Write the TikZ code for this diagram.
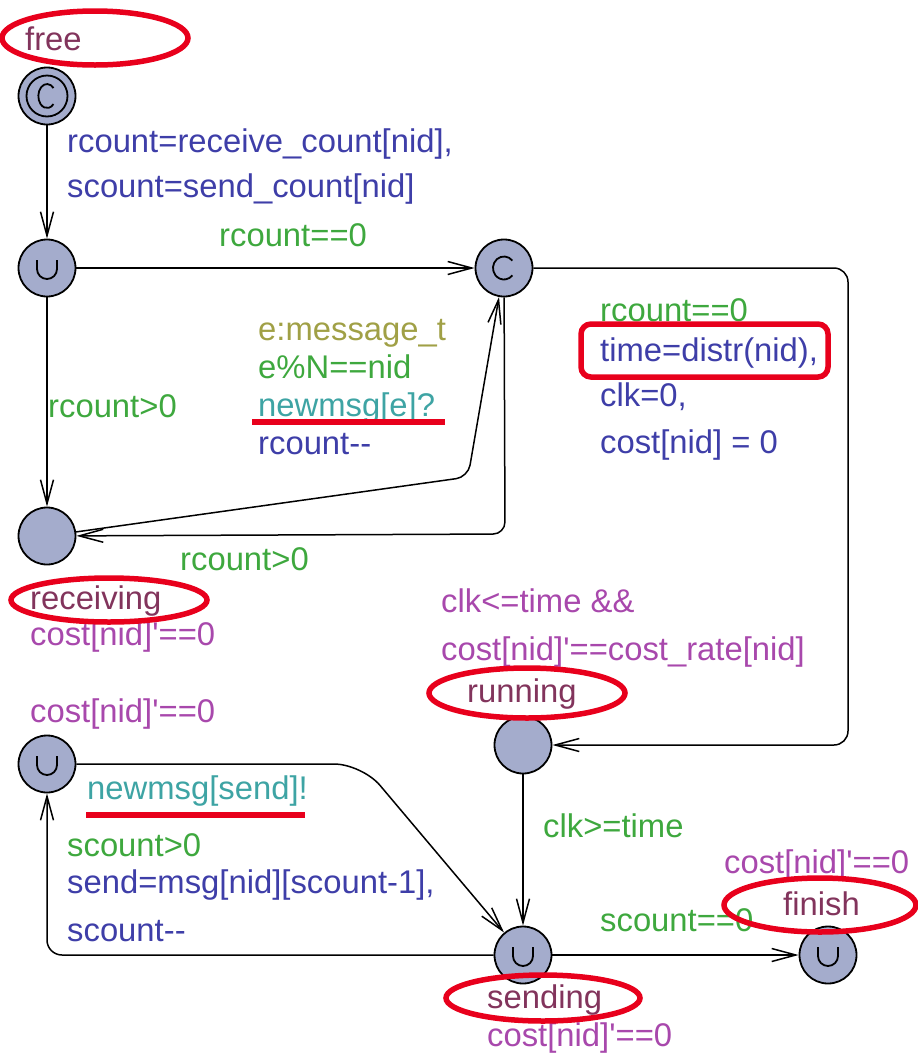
\documentclass[tikz,border=0pt]{standalone}
\usepackage{fontspec}
\setmainfont{Liberation Sans}[Ligatures=TeXOff]
\usetikzlibrary{arrows.meta}

\definecolor{statefill}{RGB}{164,172,204}
\definecolor{namecol}{RGB}{130,52,92}
\definecolor{invcol}{RGB}{168,72,172}
\definecolor{guardcol}{RGB}{62,168,62}
\definecolor{updcol}{RGB}{62,62,168}
\definecolor{synccol}{RGB}{62,164,164}
\definecolor{selcol}{RGB}{160,160,70}
\definecolor{markred}{RGB}{232,0,28}

\begin{document}
\begin{tikzpicture}[x=1pt,y=-1pt,
  every node/.style={font=\fontsize{32.8pt}{39pt}\selectfont},
  loc/.style={circle, draw=black, line width=1.8pt, fill=statefill, minimum size=57pt, inner sep=0pt},
  lbl/.style={anchor=base west, inner sep=0pt},
  nm/.style={lbl, text=namecol},
  inv/.style={lbl, text=invcol},
  grd/.style={lbl, text=guardcol},
  upd/.style={lbl, text=updcol},
  syn/.style={lbl, text=synccol},
  sel/.style={lbl, text=selcol},
  trans/.style={draw=black, line width=1.5pt, line join=round,
    -{Straight Barb[length=24pt,width=13pt,line width=1.5pt]}},
  glyph/.style={draw=black, line width=1.8pt},
  hl/.style={draw=markred, line width=5.5pt},
]
\useasboundingbox (0,0) rectangle (918,1053);

% ---------------- locations ----------------
\node[loc] (free) at (47,96) {};
\node[loc] (s1)   at (47,268) {};
\node[loc] (cst)  at (504,268) {};
\node[loc] (recv) at (47,536) {};
\node[loc] (ul)   at (47,764) {};
\node[loc] (run)  at (523,745) {};
\node[loc] (send) at (523,955) {};
\node[loc] (fin)  at (828,955) {};

% committed marks: ring plus C for the initial one, C alone for the other
\draw[glyph] (free.center) circle[radius=20.5pt];
\draw[glyph] ([shift={(6.5pt,8pt)}]free.center)
   arc[start angle=42, end angle=318, x radius=8.7pt, y radius=12pt];
\draw[glyph] ([shift={(8.4pt,7.4pt)}]cst.center)
   arc[start angle=40, end angle=320, x radius=11pt, y radius=11.5pt];

% urgent marks
\foreach \u in {s1,ul,send,fin}{
  \draw[glyph] ([shift={(-10pt,8pt)}]\u.center) -- ++(0pt,-9pt)
     arc[start angle=180,end angle=360,radius=10pt] -- ++(0pt,9pt);
}

% ---------------- transitions ----------------
\coordinate (k1) at (468,477);
\coordinate (k2) at (505,534);
\coordinate (k3) at (848,268);
\coordinate (k4) at (848,745);
\coordinate (k5) at (47,955);
\coordinate (k6) at (362,764);

\draw[trans] (free) -- (s1);
\draw[trans] (s1) -- (cst);
\draw[trans] (s1) -- (recv);
\draw[trans, rounded corners=12pt] (recv) -- (k1) -- (cst);
\draw[trans, rounded corners=12pt] (cst) -- (k2) -- (recv);
\draw[trans, rounded corners=14pt] (cst) -- (k3) -- (k4) -- (run);
\draw[trans] (run) -- (send);
\draw[trans, rounded corners=15pt] (send) -- (k5) -- (ul);
\draw[trans, rounded corners=28pt] (ul) -- (k6) -- (send);
\draw[trans] (send) -- (fin);

% ---------------- location names and invariants ----------------
\node[nm]  (tfree) at (25,50) {free};
\node[nm]  (trecv) at (30,609) {receiving};
\node[inv] (irecv) at (30,645) {cost[nid]'==0};
\node[inv] (iul)   at (30,722) {cost[nid]'==0};
\node[inv] (irun1) at (441,612) {clk<=time \&\&};
\node[inv] (irun2) at (441,660) {cost[nid]'==cost\_rate[nid]};
\node[nm]  (trun)  at (467,702) {running};
\node[inv] (ifin)  at (724,873) {cost[nid]'==0};
\node[nm]  (tfin)  at (783,915) {finish};
\node[nm]  (tsend) at (487,1008) {sending};
\node[inv] (isend) at (487,1046) {cost[nid]'==0};

% ---------------- transition labels ----------------
\node[upd] (u1a) at (67,152) {rcount=receive\_count[nid],};
\node[upd] (u1b) at (67,197) {scount=send\_count[nid]};
\node[grd] (g2)  at (219,246) {rcount==0};
\node[grd] (g3)  at (48,417) {rcount>0};
\node[sel] (s4)  at (258,340) {e:message\_t};
\node[grd] (g4)  at (258,378) {e\%N==nid};
\node[syn] (y4)  at (258,416) {newmsg[e]?};
\node[upd] (u4)  at (258,454) {rcount--};
\node[grd] (g5)  at (180,570) {rcount>0};
\node[grd] (g6)  at (600,321) {rcount==0};
\node[upd] (u6a) at (600,361) {time=distr(nid),};
\node[upd] (u6b) at (600,406) {clk=0,};
\node[upd] (u6c) at (600,453) {cost[nid] = 0};
\node[grd] (g7)  at (543,837) {clk>=time};
\node[syn] (y9)  at (87,799) {newmsg[send]!};
\node[grd] (g8)  at (67,856) {scount>0};
\node[upd] (u8a) at (67,893) {send=msg[nid][scount-1],};
\node[upd] (u8b) at (67,941) {scount--};
\node[grd] (g10) at (600,931) {scount==0};

% ---------------- highlights ----------------
\draw[hl] (95,38) ellipse[x radius=93pt, y radius=27pt];
\draw[hl] (109,600) ellipse[x radius=98pt, y radius=22pt];
\draw[hl] (527,693) ellipse[x radius=98pt, y radius=25pt];
\draw[hl] (543,998) ellipse[x radius=97pt, y radius=23pt];
\draw[hl] (820,905) ellipse[x radius=96pt, y radius=27pt];
\draw[hl, rounded corners=10pt] (581,324) rectangle (828,377);
\draw[hl] (252,422) -- (445,422);
\draw[hl] (86,815) -- (305,815);
\end{tikzpicture}
\end{document}
